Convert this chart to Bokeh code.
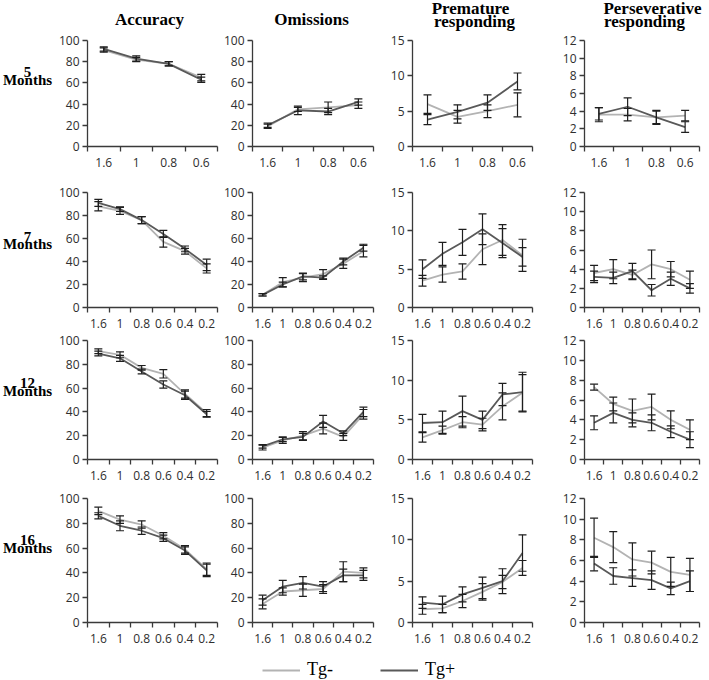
from bokeh.plotting import figure
from bokeh.models import (Range1d, FixedTicker, ColumnDataSource, Whisker, TeeHead,
                          Legend, LegendItem)
from bokeh.layouts import column, row
from bokeh.embed import file_html
from bokeh.resources import INLINE
from bokeh.core.properties import value

# ---------------- data ----------------
doses_short = ["1.6", "1", "0.8", "0.6"]
doses_long = ["1.6", "1", "0.8", "0.6", "0.4", "0.2"]

acc_ticks = [0, 20, 40, 60, 80, 100]
pre_ticks = [0, 5, 10, 15]
per_ticks = [0, 2, 4, 6, 8, 10, 12]

column_titles = ["Accuracy", "Omissions", "Premature\nresponding", "Perseverative\nresponding"]
row_ages = ["5", "7", "12", "16"]
group_names = ["Tg-", "Tg+"]

# 5 months
acc5_neg = [91, 82, 78, 65];            acc5_neg_err = [2, 2, 2, 3]
acc5_pos = [92, 83, 78, 63];            acc5_pos_err = [2, 2.5, 2, 2.5]
om5_neg = [19, 35, 37, 39];             om5_neg_err = [2, 2, 5, 3]
om5_pos = [20, 34, 33, 42];             om5_pos_err = [2, 4, 3, 3]
pre5_neg = [6.0, 4.2, 5.0, 5.9];        pre5_neg_err = [1.3, 0.9, 0.9, 1.7]
pre5_pos = [3.8, 4.9, 6.2, 9.2];        pre5_pos_err = [0.7, 1.0, 1.1, 1.2]
per5_neg = [3.6, 3.6, 3.3, 3.5];        per5_neg_err = [0.8, 0.7, 0.7, 0.6]
per5_pos = [3.7, 4.5, 3.3, 2.2];        per5_pos_err = [0.7, 1.0, 0.8, 0.6]

# 7 months
acc7_neg = [88, 84, 76, 57, 49, 34];            acc7_neg_err = [4, 3, 3, 4.5, 2.5, 4]
acc7_pos = [91, 85.5, 76, 64, 51, 37];          acc7_pos_err = [3, 2, 3, 3, 2.5, 5]
om7_neg = [11, 22, 26, 29, 38, 49];             om7_neg_err = [1, 4, 3.5, 4, 4, 5]
om7_pos = [11, 20, 27, 26, 40, 52];             om7_pos_err = [1, 2, 3, 1.5, 3, 3]
pre7_neg = [3.5, 4.3, 4.7, 7.6, 8.8, 6.8];      pre7_neg_err = [0.7, 1.0, 1.0, 2.0, 2.0, 2.1]
pre7_pos = [5.0, 7.0, 8.5, 10.2, 8.4, 6.6];     pre7_pos_err = [1.2, 1.5, 1.7, 2.0, 1.9, 1.2]
per7_neg = [3.6, 4.0, 3.4, 4.5, 4.0, 2.9];      per7_neg_err = [0.8, 1.0, 0.5, 1.5, 0.8, 0.9]
per7_pos = [3.2, 3.1, 3.8, 1.8, 3.0, 2.0];      per7_pos_err = [0.6, 0.6, 0.8, 0.6, 0.7, 0.5]

# 12 months
acc12_neg = [91, 88, 77, 72, 55, 39];           acc12_neg_err = [2, 2.5, 2, 3.5, 3.5, 3]
acc12_pos = [89, 85, 74, 63, 54, 38];           acc12_pos_err = [2, 2.5, 2, 3, 3.5, 2.5]
om12_neg = [10, 16, 20, 26, 19, 38];            om12_neg_err = [2, 2.5, 3.5, 4.5, 3, 4]
om12_pos = [11, 17, 19, 32, 22, 40];            om12_pos_err = [1.5, 2, 3, 5, 2, 4]
pre12_neg = [2.8, 3.7, 4.7, 4.4, 6.7, 8.4];     pre12_neg_err = [0.6, 0.5, 0.7, 0.8, 1.7, 2.3]
pre12_pos = [4.6, 4.7, 6.1, 5.0, 8.2, 8.5];     pre12_pos_err = [1.1, 1.4, 1.9, 1.1, 1.4, 2.5]
per12_neg = [7.3, 5.6, 4.9, 5.3, 4.0, 3.0];     per12_neg_err = [0.3, 0.7, 1.2, 1.3, 0.9, 1.0]
per12_pos = [3.7, 4.7, 4.0, 3.7, 2.8, 2.0];     per12_pos_err = [0.7, 1.0, 0.7, 0.8, 0.6, 0.8]

# 16 months
acc16_neg = [90, 83, 79, 70, 59, 43];           acc16_neg_err = [3, 3, 3, 2.5, 3, 5]
acc16_pos = [86, 78, 74, 68, 58, 42];           acc16_pos_err = [2.5, 4, 3, 2.5, 3, 5]
om16_neg = [15, 25, 26, 27, 41, 40];            om16_neg_err = [4, 3, 5, 3.5, 8, 4]
om16_pos = [18, 29, 32, 29, 38, 38];            om16_pos_err = [4, 5, 5, 4, 5, 4]
pre16_neg = [1.6, 1.7, 2.6, 3.7, 4.9, 6.6];     pre16_neg_err = [0.6, 0.5, 0.8, 1.0, 0.8, 0.9]
pre16_pos = [2.4, 2.2, 3.4, 4.2, 5.0, 8.4];     pre16_pos_err = [0.7, 1.0, 0.9, 1.3, 1.5, 2.2]
per16_neg = [8.2, 7.3, 6.1, 5.8, 4.9, 4.6];     per16_neg_err = [1.9, 1.5, 1.6, 1.1, 1.4, 1.6]
per16_pos = [5.7, 4.5, 4.3, 4.1, 3.3, 4.0];     per16_pos_err = [0.7, 0.8, 0.8, 0.9, 0.6, 1.0]

# ---------------- styling / layout ----------------
NEG_COLOR = "#b3b3b3"
POS_COLOR = "#595959"
BAR_COLOR = "#1e1e1e"
AXIS_COLOR = "#3a3a3a"
TICK_FONT = "Open Sans"
SERIF = "Liberation Serif"

LABEL_W = 55
# (width, border_left, border_right) per column
COLS = [(165, 32, 3), (165, 28, 12), (170, 27, 23), (154, 29, 10)]
# (height, border_top, border_bottom) per row
ROWS = [(140, 8, 26), (160, 20, 25), (158, 8, 31), (155, 8, 23)]
HEADER_H = 32
LEGEND_H = 35
TOTAL_W = LABEL_W + sum(c[0] for c in COLS)

# row label vertical positions (local px from top): (age line, "Months" line)
ROW_LABEL_Y = [(41, 52), (62, 72), (57, 67), (52, 62)]


def blank(width, height):
    p = figure(width=width, height=height, x_range=Range1d(0, width),
               y_range=Range1d(height, 0), x_axis_type=None, y_axis_type=None,
               output_backend="svg", toolbar_location=None,
               min_border_left=0, min_border_right=0, min_border_top=0,
               min_border_bottom=0)
    p.grid.visible = False
    p.outline_line_color = None
    p.background_fill_color = "white"
    p.border_fill_color = "white"
    return p


def panel(cats, neg, neg_err, pos, pos_err, yticks, col, rw):
    width, bl, br = COLS[col]
    height, bt, bb = ROWS[rw]
    n = len(cats)
    xs = list(range(n))
    p = figure(width=width, height=height,
               x_range=Range1d(-0.5, n - 0.5), y_range=Range1d(0, yticks[-1]),
               output_backend="svg", toolbar_location=None,
               min_border_left=bl, min_border_right=br,
               min_border_top=bt, min_border_bottom=bb)
    p.grid.visible = False
    p.outline_line_color = None
    p.background_fill_color = "white"
    p.border_fill_color = "white"

    xa = p.xaxis[0]
    xa.ticker = FixedTicker(ticks=xs, minor_ticks=[i - 0.5 for i in range(n + 1)])
    xa.major_label_overrides = {i: c for i, c in enumerate(cats)}
    xa.major_tick_out = 0
    xa.major_tick_in = 0
    xa.minor_tick_out = 5
    xa.minor_tick_in = 0
    xa.minor_tick_line_color = AXIS_COLOR
    xa.minor_tick_line_width = 1.3
    xa.major_label_standoff = 6

    ya = p.yaxis[0]
    ya.ticker = FixedTicker(ticks=yticks)
    ya.major_tick_out = 5
    ya.major_tick_in = 0
    ya.major_label_standoff = 3

    for ax in (xa, ya):
        ax.axis_line_color = AXIS_COLOR
        ax.axis_line_width = 1.3
        ax.major_tick_line_color = AXIS_COLOR
        ax.major_tick_line_width = 1.3
        ax.major_label_text_font = TICK_FONT
        ax.major_label_text_font_size = "12px"
        ax.major_label_text_color = "#2e2e2e"

    p.line(xs, neg, line_color=NEG_COLOR, line_width=1.8)
    p.line(xs, pos, line_color=POS_COLOR, line_width=1.8)

    for vals, errs in ((neg, neg_err), (pos, pos_err)):
        src = ColumnDataSource(dict(x=xs,
                                    upper=[v + e for v, e in zip(vals, errs)],
                                    lower=[v - e for v, e in zip(vals, errs)]))
        w = Whisker(source=src, base="x", upper="upper", lower="lower",
                    line_color=BAR_COLOR, line_width=1.2, level="overlay",
                    upper_head=TeeHead(size=8, line_color=BAR_COLOR, line_width=1.2),
                    lower_head=TeeHead(size=8, line_color=BAR_COLOR, line_width=1.2))
        p.add_layout(w)
    return p


# ---------------- header ----------------
header = blank(TOTAL_W, HEADER_H)
title_x = [(149,), (311,), (470, 474), (652, 644)]
hx, hy, ht = [], [], []
for t, xs_ in zip(column_titles, title_x):
    lines = t.split("\n")
    if len(lines) == 1:
        hx.append(xs_[0]); hy.append(19); ht.append(lines[0])
    else:
        hx += list(xs_); hy += [7.5, 21]; ht += lines
header.text(x=hx, y=hy, text=ht, text_font=value(SERIF), text_font_style="bold",
            text_font_size="17px", text_align="center", text_baseline="middle",
            text_color="black")

# ---------------- panels ----------------
data_rows = [
    (doses_short, [(acc5_neg, acc5_neg_err, acc5_pos, acc5_pos_err, acc_ticks),
                   (om5_neg, om5_neg_err, om5_pos, om5_pos_err, acc_ticks),
                   (pre5_neg, pre5_neg_err, pre5_pos, pre5_pos_err, pre_ticks),
                   (per5_neg, per5_neg_err, per5_pos, per5_pos_err, per_ticks)]),
    (doses_long, [(acc7_neg, acc7_neg_err, acc7_pos, acc7_pos_err, acc_ticks),
                  (om7_neg, om7_neg_err, om7_pos, om7_pos_err, acc_ticks),
                  (pre7_neg, pre7_neg_err, pre7_pos, pre7_pos_err, pre_ticks),
                  (per7_neg, per7_neg_err, per7_pos, per7_pos_err, per_ticks)]),
    (doses_long, [(acc12_neg, acc12_neg_err, acc12_pos, acc12_pos_err, acc_ticks),
                  (om12_neg, om12_neg_err, om12_pos, om12_pos_err, acc_ticks),
                  (pre12_neg, pre12_neg_err, pre12_pos, pre12_pos_err, pre_ticks),
                  (per12_neg, per12_neg_err, per12_pos, per12_pos_err, per_ticks)]),
    (doses_long, [(acc16_neg, acc16_neg_err, acc16_pos, acc16_pos_err, acc_ticks),
                  (om16_neg, om16_neg_err, om16_pos, om16_pos_err, acc_ticks),
                  (pre16_neg, pre16_neg_err, pre16_pos, pre16_pos_err, pre_ticks),
                  (per16_neg, per16_neg_err, per16_pos, per16_pos_err, per_ticks)]),
]

rows = []
for r, (cats, panels) in enumerate(data_rows):
    lab = blank(LABEL_W, ROWS[r][0])
    ya, ym = ROW_LABEL_Y[r]
    lab.text(x=[27, 27], y=[ya, ym], text=[row_ages[r], "Months"],
             text_font=value(SERIF), text_font_style="bold", text_font_size="15px",
             text_align="center", text_baseline="middle", text_color="black")
    figs = [lab]
    for c, (neg, ne, pos, pe, ticks) in enumerate(panels):
        figs.append(panel(cats, neg, ne, pos, pe, ticks, c, r))
    rows.append(row(*figs))

# ---------------- legend ----------------
leg_fig = blank(TOTAL_W, LEGEND_H)
# renderers carry points outside the visible range; they only supply the legend swatches
r_neg = leg_fig.line(x=[-50, -40], y=[-50, -50], line_color=NEG_COLOR, line_width=2)
r_pos = leg_fig.line(x=[-50, -40], y=[-50, -50], line_color=POS_COLOR, line_width=2)
legend = Legend(items=[LegendItem(label=group_names[0], renderers=[r_neg]),
                       LegendItem(label=group_names[1], renderers=[r_pos])],
                orientation="horizontal", location=(262, 0),
                glyph_width=38, glyph_height=20, label_standoff=7, spacing=47,
                padding=0, margin=0, border_line_color=None,
                background_fill_alpha=0,
                label_text_font=SERIF, label_text_font_size="18px",
                label_text_color="black")
leg_fig.add_layout(legend)

layout = column(header, *rows, leg_fig)

open("out.html", "w").write(file_html(layout, INLINE))
